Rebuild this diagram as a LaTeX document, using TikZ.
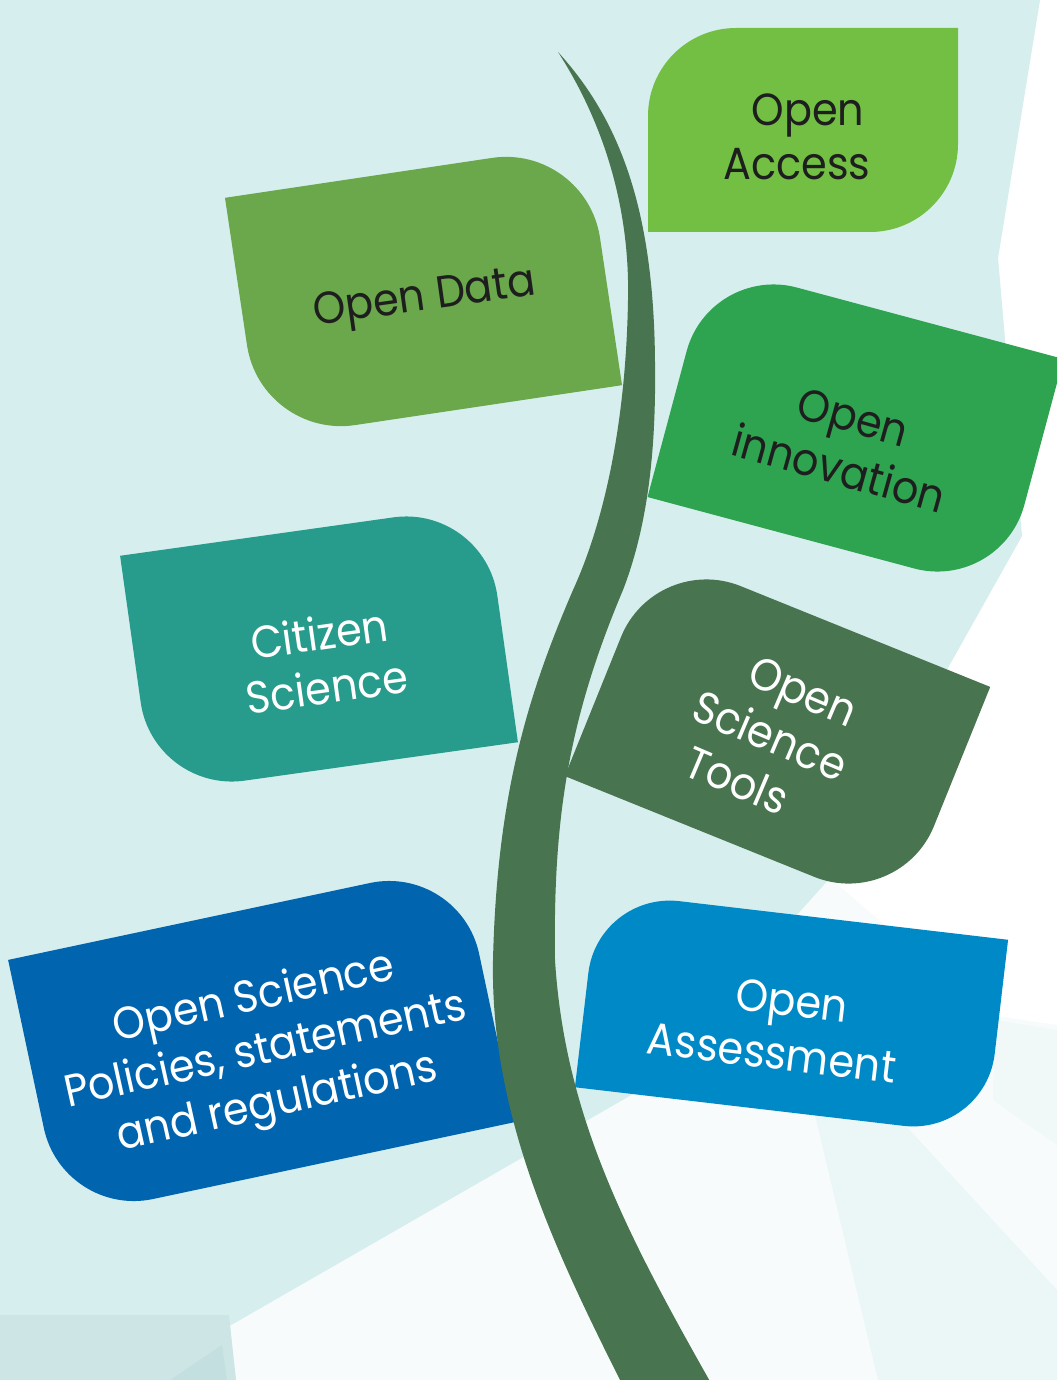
\documentclass[tikz,border=0pt]{standalone}
\usepackage{fontspec}
\setmainfont{Poppins}[FakeStretch=0.92]
\definecolor{mint}{HTML}{D6EFEE}
\definecolor{paleBase}{HTML}{F7FBFB}
\definecolor{paleA}{HTML}{EBF6F6}
\definecolor{paleB}{HTML}{F0F8F8}
\definecolor{greyBand}{HTML}{CDE5E5}
\definecolor{greyTri}{HTML}{C4DFDF}
\definecolor{cAccess}{HTML}{72BF44}
\definecolor{cData}{HTML}{6AA84B}
\definecolor{cInnov}{HTML}{2EA350}
\definecolor{cCitizen}{HTML}{279C8C}
\definecolor{cStem}{HTML}{48744F}
\definecolor{cPolicy}{HTML}{0064AF}
\definecolor{cAssess}{HTML}{0089C7}
\definecolor{darktext}{HTML}{1E1E1E}
% leaf with rounded top-left and bottom-right corners: width, height, radius, colour
\newcommand{\leafTLBR}[4]{%
  \fill[#4] ({-#1/2},{#2/2}) -- ({-#1/2},{-#2/2+#3})
    .. controls ({-#1/2},{-#2/2+0.448*#3}) and ({-#1/2+0.448*#3},{-#2/2}) .. ({-#1/2+#3},{-#2/2})
    -- ({#1/2},{-#2/2}) -- ({#1/2},{#2/2-#3})
    .. controls ({#1/2},{#2/2-0.448*#3}) and ({#1/2-0.448*#3},{#2/2}) .. ({#1/2-#3},{#2/2})
    -- cycle;}
% leaf with rounded top-right and bottom-left corners
\newcommand{\leafTRBL}[4]{%
  \fill[#4] ({-#1/2},{-#2/2}) -- ({#1/2-#3},{-#2/2})
    .. controls ({#1/2-0.448*#3},{-#2/2}) and ({#1/2},{-#2/2+0.448*#3}) .. ({#1/2},{-#2/2+#3})
    -- ({#1/2},{#2/2}) -- ({-#1/2+#3},{#2/2})
    .. controls ({-#1/2+0.448*#3},{#2/2}) and ({-#1/2},{#2/2-0.448*#3}) .. ({-#1/2},{#2/2-#3})
    -- cycle;}
\begin{document}
\begin{tikzpicture}[x=1pt,y=-1pt,
  txt/.style={align=center, font=\fontsize{45}{54}\selectfont, inner sep=0pt},
  darklabel/.style={txt, text=darktext},
  lightlabel/.style={txt, text=white}]
\useasboundingbox (0,0) rectangle (1057,1380);
\clip (0,0) rectangle (1057,1380);
% background
\fill[paleBase] (0,0) rectangle (1057,1380);
\fill[white] (1040,0) -- (1057,0) -- (1057,1025) -- (990,1015) -- (830,878)
  -- (1022,536) -- (998,258) -- cycle;
\fill[mint] (0,0) -- (1040,0) -- (998,258) -- (1022,536) -- (830,878) -- (640,1090)
  -- (226,1328) -- (236,1380) -- (0,1380) -- cycle;
\fill[paleA] (815,1115) -- (905,1125) -- (1057,1290) -- (1057,1380) -- (878,1380) -- cycle;
\fill[paleB] (995,1020) -- (1057,1030) -- (1057,1145) -- (993,1100) -- cycle;
\fill[greyBand] (0,1315) -- (229,1315) -- (236,1380) -- (0,1380) -- cycle;
\fill[greyTri] (170,1380) -- (222,1345) -- (227,1380) -- cycle;
% leaves
\begin{scope}[shift={(803,130)}]
  \leafTLBR{310}{204}{88}{cAccess}
\end{scope}
\begin{scope}[shift={(423.5,291.5)}, rotate=8.5]
  \leafTRBL{365}{244}{95}{cData}
\end{scope}
\begin{scope}[shift={(855.5,428)}, rotate=-15]
  \leafTLBR{366}{241}{90}{cInnov}
\end{scope}
\begin{scope}[shift={(319,649)}, rotate=8]
  \leafTRBL{368}{240}{92}{cCitizen}
\end{scope}
\begin{scope}[shift={(777.5,731.5)}, rotate=-22]
  \leafTLBR{361}{242}{92}{cStem}
\end{scope}
\begin{scope}[shift={(261.5,1041)}, rotate=12]
  \leafTRBL{462}{264}{92}{cPolicy}
\end{scope}
\begin{scope}[shift={(791.5,1013.5)}, rotate=-6.7]
  \leafTLBR{413}{197}{82}{cAssess}
\end{scope}
% stem
\fill[cStem] (558,52)
  .. controls (605,125) and (630,210) .. (628,300)
  .. controls (626,420) and (605,520) .. (573,590)
  .. controls (530,690) and (497,790) .. (493,960)
  .. controls (490,1120) and (560,1260) .. (626,1392)
  -- (716,1392)
  .. controls (630,1240) and (565,1120) .. (555,960)
  .. controls (553,820) and (568,720) .. (623,590)
  .. controls (650,520) and (656,440) .. (655,363)
  .. controls (654,210) and (620,120) .. (558,52)
  -- cycle;
% labels
\node[darklabel] (access) at (797,137) {\hspace*{22pt}Open\\Access};
\node[darklabel, rotate=8] (data) at (425,300) {Open Data};
\node[darklabel, rotate=-15.5] (innov) at (846,443) {Open\\innovation};
\node[lightlabel, rotate=8] (citizen) at (323,660) {Citizen\\Science};
\node[lightlabel, rotate=-23] (tools) at (770,736) {\hspace*{26pt}Open\\Science\\Tools\hspace*{26pt}};
\node[lightlabel, rotate=12.5] (policy) at (266,1052) {Open Science\\Policies, statements\\and regulations};
\node[lightlabel, rotate=-6.8] (assess) at (775,1026) {\hspace*{28pt}Open\\Assessment};
\end{tikzpicture}
\end{document}
